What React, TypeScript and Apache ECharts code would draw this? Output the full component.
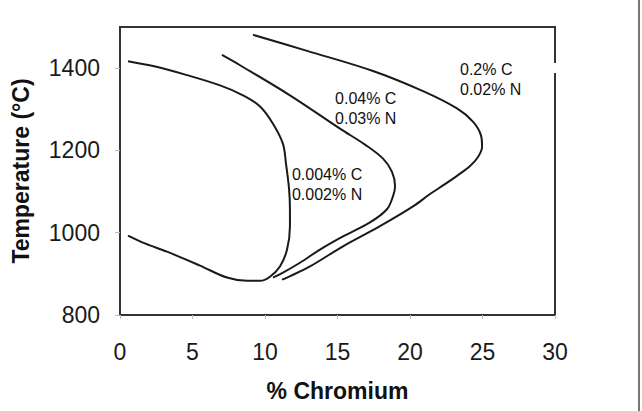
import React, { useEffect, useRef } from "react";
import * as echarts from "echarts";

// 0.004% C / 0.002% N
const curveLow: [number, number][] = [
  [0.55, 1417], [2.28, 1405], [4.62, 1383], [6.9, 1358], [8.48, 1334], [9.66, 1307],
  [10.55, 1265], [11.24, 1216], [11.45, 1167], [11.66, 1106], [11.72, 1057], [11.72, 1016],
  [11.52, 959], [11.03, 918], [10.34, 893], [9.66, 883], [8.76, 883], [7.38, 891],
  [5.52, 920], [3.24, 954], [1.72, 974], [0.55, 993],
];
// 0.04% C / 0.03% N
const curveMid: [number, number][] = [
  [7.03, 1432], [8.28, 1407], [11.72, 1334], [15.17, 1253], [16.9, 1214], [18.14, 1180],
  [18.76, 1148], [18.97, 1113], [18.83, 1089], [18.41, 1057], [17.24, 1025], [15.38, 991],
  [13.79, 959], [12.41, 927], [11.24, 903], [10.55, 891],
];
// 0.2% C / 0.02% N
const curveHigh: [number, number][] = [
  [9.17, 1481], [12.9, 1442], [17.45, 1393], [20.9, 1344], [23.24, 1302], [24.34, 1270],
  [24.9, 1236], [24.97, 1209], [24.69, 1184], [24.14, 1162], [23.31, 1140], [22.41, 1118],
  [21.38, 1094], [20.21, 1064], [17.93, 1016], [15.38, 967], [13.1, 918], [11.52, 891], [11.17, 886],
];

const curveLabels = ["0.004% C\n0.002% N", "0.04% C\n0.03% N", "0.2% C\n0.02% N"];
const labelAnchors: [number, number][] = [[11.86, 1167], [14.83, 1351], [23.45, 1422]];

const xTicks = [0, 5, 10, 15, 20, 25, 30];
const yTicks = [800, 1000, 1200, 1400];

export default function App() {
  const ref = useRef<HTMLDivElement>(null);
  useEffect(() => {
    if (!ref.current) return;
    const chart = echarts.init(ref.current, null, { renderer: "svg" });
    const lineStyle = { color: "#1a1a1a", width: 2 };
    const mk = (name: string, data: [number, number][]) => ({
      name,
      type: "line",
      data,
      smooth: 0.35,
      showSymbol: false,
      symbol: "none",
      lineStyle,
      silent: true,
    });
    chart.setOption({
      animation: false,
      backgroundColor: "#fff",
      textStyle: { fontFamily: "Liberation Sans, Arial, sans-serif" },
      grid: {
        left: 120, right: 87, top: 27, bottom: 96,
        show: true, borderColor: "#333", borderWidth: 2,
      },
      xAxis: {
        type: "value",
        min: xTicks[0],
        max: xTicks[xTicks.length - 1],
        interval: 5,
        name: "% Chromium",
        nameLocation: "middle",
        nameGap: 64,
        nameTextStyle: { fontSize: 23, fontWeight: "bold", color: "#111" },
        axisLine: { show: true, lineStyle: { color: "#333", width: 2 } },
        axisTick: { show: true, length: 4, lineStyle: { color: "#bbb" } },
        axisLabel: { fontSize: 23, color: "#1a1a1a", margin: 25 },
        splitLine: { show: false },
      },
      yAxis: {
        type: "value",
        min: yTicks[0],
        max: 1500,
        interval: 200,
        name: "Temperature (°C)",
        nameLocation: "middle",
        nameGap: 88,
        nameRotate: 90,
        nameTextStyle: { fontSize: 23, fontWeight: "bold", color: "#111" },
        axisLine: { show: true, lineStyle: { color: "#333", width: 2 } },
        axisTick: { show: true, length: 5, lineStyle: { color: "#bbb" } },
        axisLabel: {
          fontSize: 23, color: "#1a1a1a", margin: 20, showMaxLabel: false,
          formatter: (v: number) => String(v),
        },
        splitLine: { show: false },
      },
      series: [
        mk("0.004% C", curveLow),
        mk("0.04% C", curveMid),
        mk("0.2% C", curveHigh),
      ],
    });
    const texts = curveLabels.map((t, i) => {
      const p = chart.convertToPixel({ gridIndex: 0 }, labelAnchors[i]) as number[];
      return {
        type: "text",
        x: p[0],
        y: p[1],
        silent: true,
        style: {
          text: t,
          fontSize: 16,
          lineHeight: 20,
          fill: "#111",
          fontFamily: "Liberation Sans, Arial, sans-serif",
          align: "left",
          verticalAlign: "top",
        },
      };
    });
    chart.setOption({
      graphic: [
        ...texts,
        { type: "rect", shape: { x: 549, y: 63, width: 12, height: 10 }, style: { fill: "#fff" }, z: 100 },
        { type: "line", shape: { x1: 639, y1: 0, x2: 639, y2: 411 }, style: { stroke: "#777", lineWidth: 2 } },
      ],
    });
    return () => chart.dispose();
  }, []);
  return (
    <div
      ref={ref}
      style={{ position: "fixed", left: 0, top: 0, width: 642, height: 411, background: "#fff" }}
    />
  );
}
